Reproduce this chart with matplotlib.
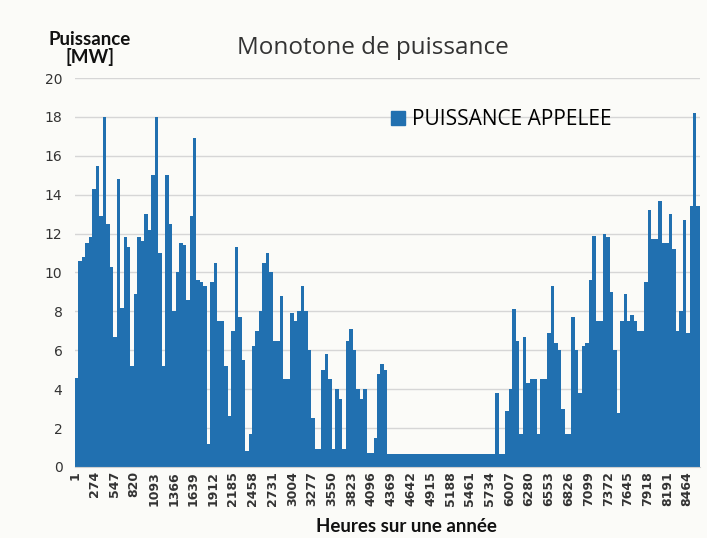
import numpy as np
import matplotlib.pyplot as plt
from matplotlib.patches import Patch

# puissance appelee, moyenne par bloc de 48 heures
pas_heures = 48
puissance = [
    4.6, 10.6, 10.8, 11.5, 11.8, 14.3, 15.5, 12.9, 18.0, 12.5,
    10.3, 6.7, 14.8, 8.2, 11.8, 11.3, 5.2, 8.9, 11.8, 11.6,
    13.0, 12.2, 15.0, 18.0, 11.0, 5.2, 15.0, 12.5, 8.0, 10.0,
    11.5, 11.4, 8.6, 12.9, 16.9, 9.6, 9.5, 9.3, 1.2, 9.5,
    10.5, 7.5, 7.5, 5.2, 2.6, 7.0, 11.3, 7.7, 5.5, 0.8,
    1.7, 6.2, 7.0, 8.0, 10.5, 11.0, 10.0, 6.5, 6.5, 8.8,
    4.5, 4.5, 7.9, 7.5, 8.0, 9.3, 8.0, 6.0, 2.5, 0.9,
    0.9, 5.0, 5.8, 4.5, 0.9, 4.0, 3.5, 0.9, 6.5, 7.1,
    6.0, 4.0, 3.5, 4.0, 0.7, 0.7, 1.5, 4.8, 5.3, 5.0,
    0.65, 0.65, 0.65, 0.65, 0.65, 0.65, 0.65, 0.65, 0.65, 0.65,
    0.65, 0.65, 0.65, 0.65, 0.65, 0.65, 0.65, 0.65, 0.65, 0.65,
    0.65, 0.65, 0.65, 0.65, 0.65, 0.65, 0.65, 0.65, 0.65, 0.65,
    0.65, 3.8, 0.65, 0.65, 2.9, 4.0, 8.1, 6.5, 1.7, 6.7,
    4.3, 4.5, 4.5, 1.7, 4.5, 4.5, 6.9, 9.3, 6.4, 6.0,
    3.0, 1.7, 1.7, 7.7, 6.0, 3.8, 6.2, 6.4, 9.6, 11.9,
    7.5, 7.5, 12.0, 11.8, 9.0, 6.0, 2.8, 7.5, 8.9, 7.5,
    7.8, 7.5, 7.0, 7.0, 9.5, 13.2, 11.7, 11.7, 13.7, 11.5,
    11.5, 13.0, 11.2, 7.0, 8.0, 12.7, 6.9, 13.4, 18.2, 13.4,
]
nb_heures = len(puissance) * pas_heures
etiquettes = list(range(1, nb_heures + 1, 273))

bleu = '#2170b0'
fond = '#fbfbf8'

fig = plt.figure(figsize=(7.07, 5.38), dpi=100, facecolor=fond)
ax = fig.add_axes([0.106, 0.132, 0.884, 0.723])
ax.set_facecolor(fond)

debut = np.arange(len(puissance)) * pas_heures
ax.bar(debut, puissance, width=pas_heures, align='edge', color=bleu,
       linewidth=0)

ax.set_xlim(0, nb_heures)
ax.set_ylim(0, 20)
ax.set_yticks(range(0, 21, 2))
ax.set_xticks([e - 0.5 for e in etiquettes])
ax.set_xticklabels([str(e) for e in etiquettes], rotation=90,
                   fontsize=9, fontweight='bold', color='#333333')
ax.tick_params(axis='y', labelsize=10, colors='#333333', length=0, pad=9)
ax.tick_params(axis='x', length=0, pad=3)
ax.grid(axis='y', color='#d6d6d6', linewidth=1)
ax.set_axisbelow(True)
for s in ['top', 'right', 'left']:
    ax.spines[s].set_visible(False)
ax.spines['bottom'].set_color('#d0d0d0')

fig.text(0.527, 0.9, 'Monotone de puissance', ha='center', fontsize=17.5,
         color='#333333', family='Open Sans')
fig.text(0.127, 0.91, 'Puissance\n[MW]', ha='center', va='center',
         fontsize=13.5, fontweight='bold', family='Lato', color='#111111',
         linespacing=0.95)
fig.text(0.575, 0.005, 'Heures sur une année', ha='center', va='bottom',
         fontsize=13.5, fontweight='bold', family='Lato', color='#111111')

ax.legend(handles=[Patch(color=bleu, label='PUISSANCE APPELEE')],
          loc='upper left', bbox_to_anchor=(0.505, 0.92), frameon=False,
          borderaxespad=0, borderpad=0,
          handlelength=0.7, handleheight=0.7, handletextpad=0.35,
          prop={'family': 'Open Sans', 'size': 15})

fig.savefig('out.png', dpi=100, facecolor=fond)
